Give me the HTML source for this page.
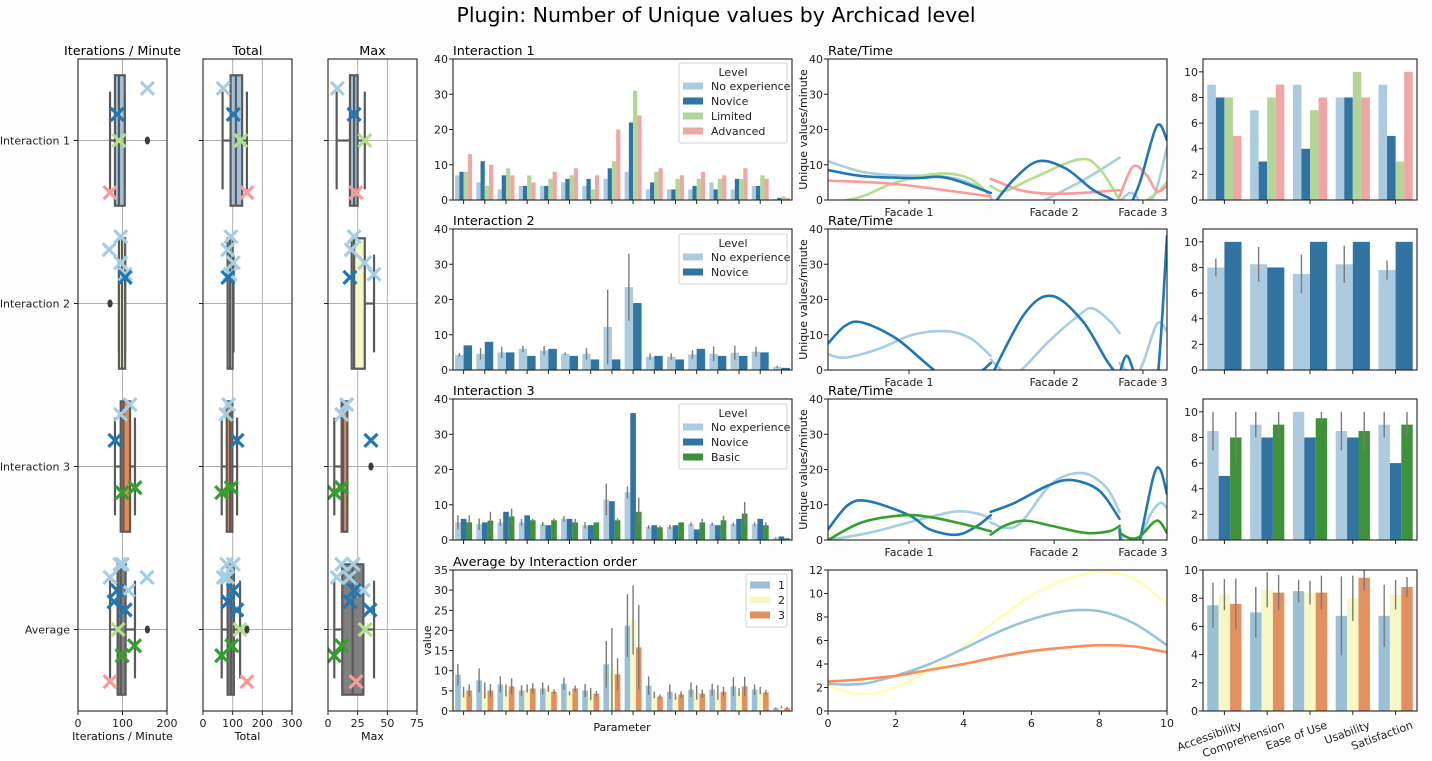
<!DOCTYPE html>
<html><head><meta charset="utf-8"><style>
html,body{margin:0;padding:0;background:#fdfdfd;}
svg{display:block;font-family:"DejaVu Sans","Liberation Sans",sans-serif;}
</style></head><body>
<svg id="fig" width="1432" height="761" viewBox="0 0 1432 761" xmlns="http://www.w3.org/2000/svg">
<rect x="0" y="0" width="1432" height="761" fill="#fdfdfd"/>
<text x="716" y="22" font-size="20.5" text-anchor="middle" fill="#000">Plugin: Number of Unique values by Archicad level</text>
</svg>
<script>
// ---------------- DATA ----------------
const boxCats = ["Interaction 1","Interaction 2","Interaction 3","Average"];
// box stats: [whiskerLo, q1, median, q3, whiskerHi]
const boxIterStats = [[72,83,92,105,105],[92,92,99,106,106],[83,96,102,117,128],[72,89,96,107,128]];
const boxIterOutliers = [[156],[72],[],[156]];
const boxTotalStats = [[66,93,111,132,148],[83,83,91,100,103],[63,80,91,99,115],[63,83,94,104,125]];
const boxTotalOutliers = [[],[],[],[148]];
const boxMaxStats = [[7.3,18.5,22,25,31],[20,20,22,31,38.8],[5.3,11.5,12.7,16.3,16.3],[5.3,12,20.8,29.8,38.8]];
const boxMaxOutliers = [[],[],[36.2],[]];
const boxFills = ["#9fc3da","#f7f6c5","#e28a5a","#808080"];
// scatter markers: category index, level, jitter offset (category units)
const mkCat = [0,0,0,0, 1,1,1,1,1, 2,2,2,2,2, 3,3,3,3,3,3,3,3,3,3,3,3];
const mkLevel = ["lb","db","lg","pk", "lb","lb","lb","lb","db", "lb","lb","db","gr","gr", "lb","lb","lb","lb","db","db","db","lg","gr","gr","pk","lb"];
const mkJit = [-0.32,-0.16,0,0.32, -0.41,-0.33,-0.25,-0.18,-0.16, -0.38,-0.32,-0.16,0.13,0.16, -0.4,-0.32,-0.32,-0.24,-0.24,-0.17,-0.12,0,0.1,0.16,0.32,-0.4];
const mkIter = [156,88,92,72, 96,70,96,106,106, 117,96,83,128,99, 100,72,155,113,88,81,106,90,127,99,72,94];
const mkTotal = [68,102,127,148, 94,83,102,91,84, 86,77,115,95,63, 80,68,83,102,102,84,114,125,97,63,148,102];
const mkMax = [7.9,22,31,23.6, 22,19.6,30.9,38.8,18.5, 15.7,11.5,36.2,11.5,5.3, 11.5,7.6,18,29.8,22,18.5,35.4,31.3,11.5,5.3,23.6,21.3];

const barCatsCount = 16;
const i1NoExp = [7,5,3,4,4,5,4,6,8,3,3,3,5,3,4,0.3];
const i1Novice = [8,11,7,4,4,6,6,9,22,5,3,4,3,6,4,0.6];
const i1Limited = [8,4,9,7,6,7,3,11,31,8,6,6,6,6,7,1];
const i1Advanced = [13,10,7,5,8,9,7,20,24,9,7,8,7,9,6,0.6];
const i2NoExp = [4.3,4.6,5,6,5.5,4.6,4.6,12.2,23.5,3.8,3.8,4.4,4.6,4.9,5.2,0.9];
const i2NoExpErr = [0.5,1.6,1.6,0.9,1.3,0.4,1.6,10.6,9.5,0.9,0.9,1.2,2.1,2,1.4,0.3];
const i2Novice = [7,8,5,4,6,4,3,3,19,4,3,6,4,4,5,0.6];
const i3NoExp = [5,4.5,5,5,4.5,6,4.2,11.5,13.5,3.7,3.7,4.5,4.5,4.5,4.5,0.5];
const i3NoExpErr = [2,1.6,1,1,0.6,0.8,0.9,4.5,1.7,0.5,0.6,0.5,0.5,0.5,0.5,0.2];
const i3Novice = [6,5,8,7,4.2,6,4.2,11,36,4.2,4.2,3,4.2,6,6,1];
const i3Basic = [5,5.5,6.7,5.6,5.6,5,5,5.6,8,3.6,5,5,5.6,7.5,4.2,0.5];
const i3BasicErr = [2,2.5,2.2,0.5,0.5,1,0,0.5,4,0.5,0,1,1.3,3.3,0.8,0];
const avgO1 = [9,7.6,6.6,5.1,5.6,6.8,5.1,11.6,21.2,6.3,4.8,5.3,5.3,6.1,5.3,0.7];
const avgO1Err = [2.7,3,2,1.3,1.5,1.5,1.6,5.8,7.8,2.3,1.8,1.8,1.5,2.3,1.3,0.2];
const avgO2 = [4.7,5.1,5.1,5.6,5.6,4.4,4.2,10.3,22.6,4,3.6,4.6,4.6,4.7,5.1,1];
const avgO2Err = [1.3,2,1.5,1,0.8,0.5,1.5,10.3,8.6,0.8,0.8,1.8,1.8,1,0.9,0.3];
const avgO3 = [5.1,5.1,6.1,5.6,4.8,5.6,4.3,9.1,15.8,3.6,4.1,4.3,4.8,6.1,4.6,0.7];
const avgO3Err = [1.5,1.6,2,1.3,0.6,0.7,0.7,4,10.5,0.5,0.8,1,1.2,2.4,0.7,0.3];

const facadeTicks = [23.9,66.7,92.9];
const facadeLabels = ["Facade 1","Facade 2","Facade 3"];
const l1NoExpX = [[0,10,20,35,45,48.5],[64,76,86],[86.5,89,91,93,96.5,100]];
const l1NoExpY = [[11,8,7,6.5,3.5,0],[0,6,12],[0,2,1,-2,2,15]];
const l1NoviceX = [[0,10,25,35,48],[49,55,62,70,78,84,86],[88,92,97,100]];
const l1NoviceY = [[8.5,6.8,6.2,6.3,2],[-1,6,11,9,3,0,-2],[-4,5,21,17]];
const l1LimitedX = [[0,10,20,33,42,48],[48,52,60,74,80,86],[89,93,97,100]];
const l1LimitedY = [[-1,1,5,7.5,6,1],[4,2.5,6,11.5,9,0],[-1,-0.5,2,5]];
const l1AdvX = [[0,20,48],[48,58,70,86],[86,90,94,97,100]];
const l1AdvY = [[5.5,4.5,1],[6,2.5,1.8,2.8],[1,9.5,7,2.5,4]];
const l2NoviceX = [[0,5,10,20,30,36,44,48],[48,58,66,75,82,85],[86,88,90,93,97,100]];
const l2NoviceY = [[7.5,12.5,13.5,9,1,-3,-1,2],[-2,16,21,14,3,-1],[-1,4,0,-10,-4,38]];
const l2NoExpX = [[0,5,15,25,35,42,48],[48,50,53,57,65,74,78,83,86],[86,88,92,97,100]];
const l2NoExpY = [[4.5,3.5,6,10,11,9,4],[3,1,-1,0,8,15.5,17.5,14,10.5],[2,0,0,13,11]];
const l3NoviceX = [[0,6,12,24,30,38,44,48],[48,55,65,72,80,86],[86,87,90,92,96,98,100]];
const l3NoviceY = [[3,10,11,7,3,1.5,4,7],[8,10.5,15.5,17,14,6],[3,-5,-5,0,18,20,13]];
const l3NoExpX = [[0,12,24,37,44,48],[48,52,57,66,75,82,86],[86,88,91,95,98,100]];
const l3NoExpY = [[0,2,5,8,7.5,6],[5,3.5,5,16,19,15,8],[4,-3,-2,7,10.5,9]];
const l3BasicX = [[0,10,22,30,40,48],[48,52,58,66,76,83,86],[86,89,92,97,100]];
const l3BasicY = [[0,5,7,6.5,4.5,2.5],[1.5,4,5.5,4,2,2.5,4],[2,0.5,1,5.5,2]];
const l4X = [0,1,2,3,4,5,6,7,8,9,10];
const l4Order1 = [2.3,2.3,3,4,5.3,6.7,7.8,8.5,8.5,7.5,5.6];
const l4Order2 = [2.1,1.4,2,3.5,5.5,7.8,9.8,11.2,11.8,11.3,9.1];
const l4Order3 = [2.5,2.7,3,3.5,4,4.6,5.1,5.4,5.6,5.5,5.0];

const surveyCats = ["Accessibility","Comprehension","Ease of Use","Usability","Satisfaction"];
const s1NoExp = [9,7,9,8,9];
const s1Novice = [8,3,4,8,5];
const s1Limited = [8,8,7,10,3];
const s1Advanced = [5,9,8,8,10];
const s2NoExp = [8,8.25,7.5,8.25,7.8];
const s2NoExpErr = [0.7,1.35,1.5,1.45,0.75];
const s2Novice = [10,8,10,10,10];
const s3NoExp = [8.5,9,10,8.5,9];
const s3NoExpErr = [1.5,1,0,1.5,1];
const s3Novice = [5,8,8,8,6];
const s3Basic = [8,9,9.5,8.5,9];
const s3BasicErr = [2,1,0.5,1.5,1];
const s4O1 = [7.5,7,8.5,6.75,6.75];
const s4O1Err = [1.6,1.8,0.8,2.8,2.2];
const s4O2 = [8.25,8.6,8.4,8,8.25];
const s4O2Err = [1.1,1.25,0.85,1.6,1.05];
const s4O3 = [7.6,8.4,8.4,9.45,8.8];
const s4O3Err = [1.8,1.25,1.2,0.9,0.7];

// ---------------- DRAWING ----------------
const NS = "http://www.w3.org/2000/svg";
const fig = document.getElementById('fig');
const FS = 11;
function mk(parent, tag, attrs, txt){
  const e = document.createElementNS(NS, tag);
  for (const k in attrs) e.setAttribute(k, attrs[k]);
  if (txt !== undefined) e.textContent = txt;
  parent.appendChild(e);
  return e;
}
const C = {lb:"#a6cee3", db:"#1f78b4", lg:"#b2df8a", pk:"#fb9a99", gr:"#33a02c"};
const BC = {lb:"#adcbde", db:"#3274a1", lg:"#b3d597", pk:"#efa6a5", gr:"#3d923a", o1:"#9ac0d5", o2:"#f7f6c5", o3:"#e2905f"};
let clipId = 0;

function makeAxes(name, x0, y0, x1, y1, xmin, xmax, ymin, ymax){
  const g = mk(fig, 'g', {});
  
  
  const bg = mk(g, 'rect', {x:x0, y:y0, width:x1-x0, height:y1-y0, fill:'#fff'});
  
  
  const id = 'clip' + (clipId++);
  const cp = mk(g, 'clipPath', {id:id});
  mk(cp, 'rect', {x:x0, y:y0, width:x1-x0, height:y1-y0});
  const plot = mk(g, 'g', {'clip-path':'url(#' + id + ')'});
  
  
  return {g, plot, x0, y0, x1, y1, sx:v => x0 + (v - xmin) / (xmax - xmin) * (x1 - x0), sy:v => y1 - (v - ymin) / (ymax - ymin) * (y1 - y0)};
}
function frame(ax){
  const f = mk(ax.g, 'rect', {x:ax.x0, y:ax.y0, width:ax.x1-ax.x0, height:ax.y1-ax.y0, fill:'none', stroke:'#222', 'stroke-width':1.1});
  
  
}
function yTicks(ax, vals, labels){
  vals.forEach((v, i) => {
    const y = ax.sy(v);
    mk(ax.g, 'line', {x1:ax.x0-4, x2:ax.x0, y1:y, y2:y, stroke:'#222', 'stroke-width':1});
    const t = mk(ax.g, 'text', {x:ax.x0-5, y:y+4, 'font-size':FS, 'text-anchor':'end', fill:'#222'}, labels[i]);
    
    
  });
}
function xTicks(ax, xs, labels){
  xs.forEach((x, i) => {
    mk(ax.g, 'line', {x1:x, x2:x, y1:ax.y1, y2:ax.y1+4, stroke:'#222', 'stroke-width':1});
    if (labels) {
      const t = mk(ax.g, 'text', {x:x, y:ax.y1+16, 'font-size':FS, 'text-anchor':'middle', fill:'#222'}, labels[i]);
      
      
    }
  });
}
function axTitle(ax, txt, x, anchor){
  const t = mk(ax.g, 'text', {x:x, y:ax.y0-4, 'font-size':12.8, 'text-anchor':anchor, fill:'#000'}, txt);
  
  
}
function yLabel(ax, txt, x){
  const cy = (ax.y0 + ax.y1) / 2;
  const t = mk(ax.g, 'text', {x:x, y:cy, 'font-size':FS, 'text-anchor':'middle', fill:'#111', transform:'rotate(-90 ' + x + ' ' + cy + ')'}, txt);
  
  
}
function errBar(ax, x, v, e){
  if (!e) return;
  const l = mk(ax.plot, 'line', {x1:x, x2:x, y1:ax.sy(v-e), y2:ax.sy(v+e), stroke:'#7a7a7a', 'stroke-width':1.4});
  
  
}
function groupedBars(ax, n, series, colors, errs, nameBase){
  const step = (ax.x1 - ax.x0) / n;
  const gw = step * 0.8, bw = gw / series.length;
  for (let i = 0; i < n; i++) {
    series.forEach((s, k) => {
      const x = ax.x0 + i*step + step*0.1 + k*bw;
      const y = ax.sy(s[i]);
      const r = mk(ax.plot, 'rect', {x:x, y:y, width:bw, height:ax.sy(0)-y, fill:colors[k]});
      
      
      if (errs[k]) errBar(ax, x + bw/2, s[i], errs[k][i]);
    });
  }
  const xs = [];
  for (let i = 0; i < n; i++) xs.push(ax.x0 + (i+0.5)*step);
  return xs;
}
function legend(x, y, w, title, labels, colors){
  const g = mk(fig, 'g', {});
  
  
  const h = (title ? 16 : 4) + labels.length*15 + 4;
  mk(g, 'rect', {x:x, y:y, width:w, height:h, rx:2, fill:'#fff', 'fill-opacity':0.85, stroke:'#d0d0d0'});
  let cy = y + 4;
  if (title) {
    const t = mk(g, 'text', {x:x+w/2, y:y+13, 'font-size':FS, 'text-anchor':'middle', fill:'#222'}, title);
    
    
    cy = y + 16;
  }
  labels.forEach((lab, i) => {
    const e = mk(g, 'g', {});
    
    
    mk(e, 'rect', {x:x+4, y:cy+i*15+3.5, width:20, height:7, fill:colors[i]});
    mk(e, 'text', {x:x+32, y:cy+i*15+11, 'font-size':FS, fill:'#222'}, lab);
  });
}
function smoothPath(pts){
  if (pts.length < 2) return '';
  let d = 'M' + pts[0][0] + ',' + pts[0][1];
  for (let i = 0; i < pts.length-1; i++) {
    const p0 = pts[i-1] || pts[i], p1 = pts[i], p2 = pts[i+1], p3 = pts[i+2] || p2;
    const c1x = p1[0] + (p2[0]-p0[0])/6, c1y = p1[1] + (p2[1]-p0[1])/6;
    const c2x = p2[0] - (p3[0]-p1[0])/6, c2y = p2[1] - (p3[1]-p1[1])/6;
    d += ' C' + c1x + ',' + c1y + ' ' + c2x + ',' + c2y + ' ' + p2[0] + ',' + p2[1];
  }
  return d;
}
function lineSeries(ax, xsegs, ysegs, color, name){
  xsegs.forEach((xs, si) => {
    const pts = xs.map((x, i) => [ax.sx(x), ax.sy(ysegs[si][i])]);
    const p = mk(ax.plot, 'path', {d:smoothPath(pts), fill:'none', stroke:color, 'stroke-width':2.6, 'stroke-linecap':'round'});
    
    
  });
}
function xMarker(ax, x, y, color){
  const s = 6.5;
  const p = mk(ax.plot, 'path', {d:'M'+(x-s)+','+(y-s)+' L'+(x+s)+','+(y+s)+' M'+(x-s)+','+(y+s)+' L'+(x+s)+','+(y-s), stroke:color, 'stroke-width':3.2, fill:'none'});
  
  
}

// ---------- Box plots ----------
function boxPanel(name, x0, xmax, ticks, gridVals, stats, outliers, mkVals, title, xlab, showCats){
  const ax = makeAxes(name, x0, 59, x0+89, 711, 0, xmax, 0, 1);
  const step = (ax.y1 - ax.y0) / 4;
  const cy = i => ax.y0 + (i+0.5)*step;
  gridVals.forEach(v => mk(ax.plot, 'line', {x1:ax.sx(v), x2:ax.sx(v), y1:ax.y0, y2:ax.y1, stroke:'#b0b0b0', 'stroke-width':1}));
  boxCats.forEach((c, i) => mk(ax.plot, 'line', {x1:ax.x0, x2:ax.x1, y1:cy(i), y2:cy(i), stroke:'#b0b0b0', 'stroke-width':1}));
  stats.forEach((s, i) => {
    const y = cy(i), h = step*0.8, hw = step*0.6;
    const g = mk(ax.plot, 'g', {});
    
    
    const st = {stroke:'#5a5a5a', 'stroke-width':2.2};
    mk(g, 'line', Object.assign({x1:ax.sx(s[0]), x2:ax.sx(s[1]), y1:y, y2:y}, st));
    mk(g, 'line', Object.assign({x1:ax.sx(s[3]), x2:ax.sx(s[4]), y1:y, y2:y}, st));
    mk(g, 'line', Object.assign({x1:ax.sx(s[0]), x2:ax.sx(s[0]), y1:y-hw/2, y2:y+hw/2}, st));
    mk(g, 'line', Object.assign({x1:ax.sx(s[4]), x2:ax.sx(s[4]), y1:y-hw/2, y2:y+hw/2}, st));
    mk(g, 'rect', Object.assign({x:ax.sx(s[1]), y:y-h/2, width:Math.max(ax.sx(s[3])-ax.sx(s[1]),2), height:h, fill:boxFills[i]}, st));
    mk(g, 'line', Object.assign({x1:ax.sx(s[2]), x2:ax.sx(s[2]), y1:y-h/2, y2:y+h/2}, st));
    outliers[i].forEach(o => mk(g, 'ellipse', {cx:ax.sx(o), cy:y, rx:2.6, ry:4, fill:'#3d3d3d'}));
  });
  mkVals.forEach((v, k) => xMarker(ax, ax.sx(v), cy(mkCat[k]) + mkJit[k]*step, C[mkLevel[k]]));
  frame(ax);
  xTicks(ax, ticks.map(v => ax.sx(v)), ticks.map(String));
  boxCats.forEach((c, i) => {
    mk(ax.g, 'line', {x1:ax.x0-4, x2:ax.x0, y1:cy(i), y2:cy(i), stroke:'#222'});
    if (showCats) {
      const t = mk(ax.g, 'text', {x:ax.x0-8, y:cy(i)+4, 'font-size':FS, 'text-anchor':'end', fill:'#222'}, c);
      
      
    }
  });
  axTitle(ax, title, (ax.x0+ax.x1)/2, 'middle');
  const xl = mk(ax.g, 'text', {x:(ax.x0+ax.x1)/2, y:740, 'font-size':FS, 'text-anchor':'middle', fill:'#111'}, xlab);
  
  
}
boxPanel('iterations-boxplot', 78, 200, [0,100,200], [100], boxIterStats, boxIterOutliers, mkIter, 'Iterations / Minute', 'Iterations / Minute', true);
boxPanel('total-boxplot', 203, 300, [0,100,200,300], [100,200], boxTotalStats, boxTotalOutliers, mkTotal, 'Total', 'Total', false);
boxPanel('max-boxplot', 328, 75, [0,25,50,75], [25,50], boxMaxStats, boxMaxOutliers, mkMax, 'Max', 'Max', false);

// ---------- Parameter bar charts ----------
const rowsY = [[59,200],[229,370],[399,540],[570,711]];
function paramChart(r, name, title, ymax, tickVals, series, colors, errs){
  const ax = makeAxes(name, 453, rowsY[r][0], 792, rowsY[r][1], 0, 1, 0, ymax);
  const xs = groupedBars(ax, barCatsCount, series, colors, errs, name);
  frame(ax);
  yTicks(ax, tickVals, tickVals.map(String));
  xTicks(ax, xs, null);
  axTitle(ax, title, 453, 'start');
  return ax;
}
paramChart(0, 'interaction-1-bars', 'Interaction 1', 40, [0,10,20,30,40], [i1NoExp,i1Novice,i1Limited,i1Advanced], [BC.lb,BC.db,BC.lg,BC.pk], []);
legend(679, 63, 108, 'Level', ['No experience','Novice','Limited','Advanced'], [BC.lb,BC.db,BC.lg,BC.pk]);
paramChart(1, 'interaction-2-bars', 'Interaction 2', 40, [0,10,20,30,40], [i2NoExp,i2Novice], [BC.lb,BC.db], [i2NoExpErr]);
legend(679, 234, 108, 'Level', ['No experience','Novice'], [BC.lb,BC.db]);
paramChart(2, 'interaction-3-bars', 'Interaction 3', 40, [0,10,20,30,40], [i3NoExp,i3Novice,i3Basic], [BC.lb,BC.db,BC.gr], [i3NoExpErr,null,i3BasicErr]);
legend(679, 404, 108, 'Level', ['No experience','Novice','Basic'], [BC.lb,BC.db,BC.gr]);
const avgAx = paramChart(3, 'average-order-bars', 'Average by Interaction order', 35, [0,5,10,15,20,25,30,35], [avgO1,avgO2,avgO3], [BC.o1,BC.o2,BC.o3], [avgO1Err,avgO2Err,avgO3Err]);
legend(746, 574, 41, '', ['1','2','3'], [BC.o1,BC.o2,BC.o3]);
yLabel(avgAx, 'value', 431);
const pl = mk(fig, 'text', {x:622, y:731, 'font-size':FS, 'text-anchor':'middle', fill:'#111'}, 'Parameter');



// ---------- Rate/Time line charts ----------
function rateChart(r, name, seriesList){
  const ax = makeAxes(name, 828, rowsY[r][0], 1167, rowsY[r][1], 0, 100, 0, 40);
  seriesList.forEach(s => lineSeries(ax, s[0], s[1], s[2], s[3]));
  frame(ax);
  yTicks(ax, [0,10,20,30,40], ['0','10','20','30','40']);
  xTicks(ax, facadeTicks.map(v => ax.sx(v)), facadeLabels);
  axTitle(ax, 'Rate/Time', 828, 'start');
  yLabel(ax, 'Unique values/minute', 807);
}
rateChart(0, 'rate-time-interaction-1', [[l1NoExpX,l1NoExpY,C.lb,'no-experience-line'],[l1LimitedX,l1LimitedY,C.lg,'limited-line'],[l1AdvX,l1AdvY,C.pk,'advanced-line'],[l1NoviceX,l1NoviceY,C.db,'novice-line']]);
rateChart(1, 'rate-time-interaction-2', [[l2NoExpX,l2NoExpY,C.lb,'no-experience-line'],[l2NoviceX,l2NoviceY,C.db,'novice-line']]);
rateChart(2, 'rate-time-interaction-3', [[l3NoExpX,l3NoExpY,C.lb,'no-experience-line'],[l3NoviceX,l3NoviceY,C.db,'novice-line'],[l3BasicX,l3BasicY,C.gr,'basic-line']]);
(function(){
  const ax = makeAxes('average-order-lines', 828, 570, 1167, 711, 0, 10, 0, 12);
  lineSeries(ax, [l4X], [l4Order2], '#ffffb3', 'order-2-line');
  lineSeries(ax, [l4X], [l4Order1], '#92c5de', 'order-1-line');
  lineSeries(ax, [l4X], [l4Order3], '#fc8d59', 'order-3-line');
  frame(ax);
  const yt = [0,2,4,6,8,10,12];
  yTicks(ax, yt, yt.map(String));
  const xt = [0,2,4,6,8,10];
  xTicks(ax, xt.map(v => ax.sx(v)), xt.map(String));
})();

// ---------- Survey bar charts ----------
function surveyChart(r, name, ymax, series, colors, errs, showLabels){
  const ax = makeAxes(name, 1203, rowsY[r][0], 1417, rowsY[r][1], 0, 1, 0, ymax);
  const xs = groupedBars(ax, surveyCats.length, series, colors, errs, name);
  frame(ax);
  const yt = [0,2,4,6,8,10];
  yTicks(ax, yt, yt.map(String));
  xTicks(ax, xs, null);
  if (showLabels) {
    xs.forEach((x, i) => {
      const tx = x + 18, ty = ax.y1 + 17;
      const t = mk(ax.g, 'text', {x:tx, y:ty, 'font-size':FS, 'text-anchor':'end', fill:'#222', transform:'rotate(-20 ' + tx + ' ' + ty + ')'}, surveyCats[i]);
      
      
    });
  }
}
surveyChart(0, 'survey-interaction-1', 11, [s1NoExp,s1Novice,s1Limited,s1Advanced], [BC.lb,BC.db,BC.lg,BC.pk], [], false);
surveyChart(1, 'survey-interaction-2', 11, [s2NoExp,s2Novice], [BC.lb,BC.db], [s2NoExpErr], false);
surveyChart(2, 'survey-interaction-3', 11, [s3NoExp,s3Novice,s3Basic], [BC.lb,BC.db,BC.gr], [s3NoExpErr,null,s3BasicErr], false);
surveyChart(3, 'survey-average-order', 10, [s4O1,s4O2,s4O3], [BC.o1,BC.o2,BC.o3], [s4O1Err,s4O2Err,s4O3Err], true);
</script>
</body></html>
